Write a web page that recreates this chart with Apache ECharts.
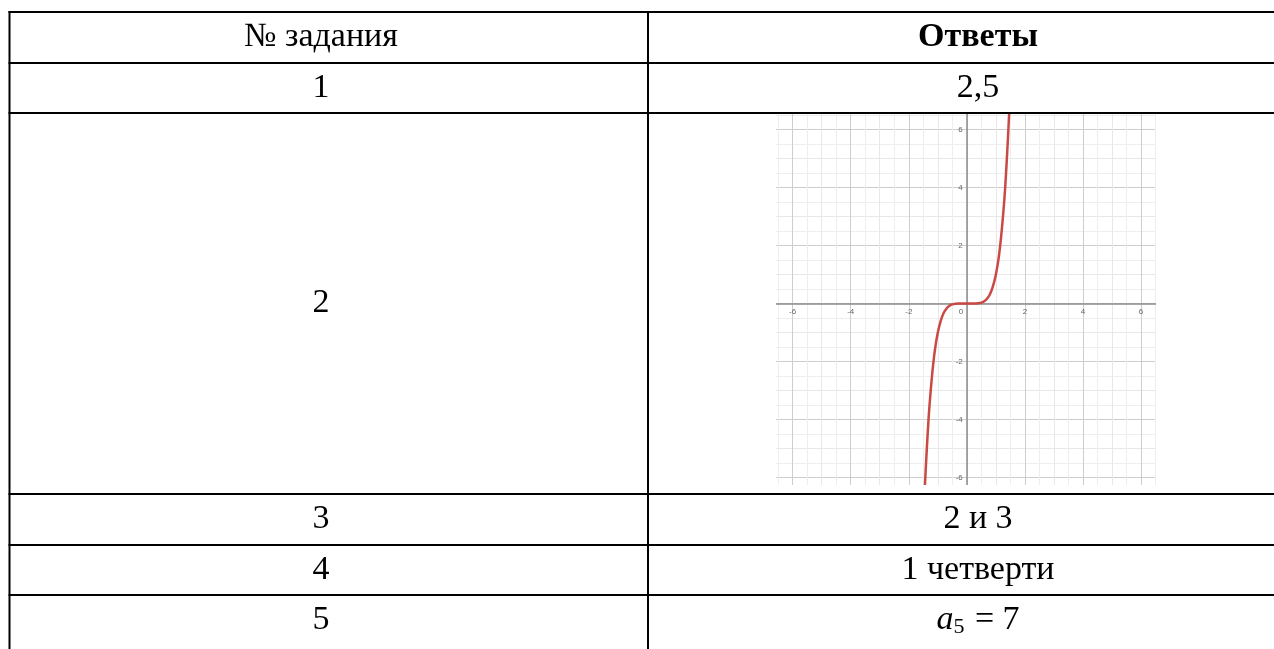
<!DOCTYPE html>
<html>
<head>
<meta charset="utf-8">
<script src="https://cdn.jsdelivr.net/npm/echarts@6/dist/echarts.min.js"></script>
<style>
  html, body { margin: 0; padding: 0; background: #fff; }
  #chart { width: 1274px; height: 649px; }
</style>
</head>
<body>
<div id="chart"></div>
<script>
// table content
const taskNumbers = ["1", "2", "3", "4", "5"];
const answers = ["2,5", "", "2 и 3", "1 четверти", "a5 = 7"];
const headers = ["№ задания", "Ответы"];

// curve points in row 2
const curveX = [-1.47, -1.45, -1.4, -1.35, -1.3, -1.2, -1.1, -1.0, -0.9, -0.8, -0.7, -0.6, -0.5, -0.3, 0,
  0.3, 0.5, 0.6, 0.7, 0.8, 0.9, 1.0, 1.1, 1.2, 1.3, 1.35, 1.4, 1.45, 1.47];
const curveY = [-6.9, -6.4, -5.4, -4.5, -3.7, -2.5, -1.6, -1.0, -0.6, -0.33, -0.17, -0.08, -0.03, 0, 0,
  0, 0.03, 0.08, 0.17, 0.33, 0.6, 1.0, 1.6, 2.5, 3.7, 4.5, 5.4, 6.4, 6.9];
const axisLabels = [-6, -4, -2, 0, 2, 4, 6];

const colLeft = 9.5, colMid = 648, tableRight = 1310;
const rowLines = [12, 63, 113, 494, 545, 595];
const rowCenters = [37.5, 88, 303, 519.5, 570, 620];
const col1X = 321, col2X = 978;
const unit = 29.03; // px per graph unit, used to shift the axes onto zero

const chart = echarts.init(document.getElementById("chart"), null, { renderer: "canvas" });

const serif = "'Liberation Serif', 'Times New Roman', serif";
const graphic = [];

// white covers that trim the plot to the picture's edges
[[700, 80, 76, 440], [1156, 80, 60, 440], [700, 80, 520, 34], [700, 485, 520, 40]].forEach(r => {
  graphic.push({ type: "rect", z: 10, shape: { x: r[0], y: r[1], width: r[2], height: r[3] },
    style: { fill: "#fff" } });
});

// table lines
rowLines.forEach(y => {
  graphic.push({ type: "line", z: 20, shape: { x1: colLeft - 1, y1: y, x2: tableRight, y2: y },
    style: { stroke: "#000", lineWidth: 2 } });
});
[colLeft, colMid].forEach(x => {
  graphic.push({ type: "line", z: 20, shape: { x1: x, y1: 11, x2: x, y2: 660 },
    style: { stroke: "#000", lineWidth: 2 } });
});

// header
graphic.push({ type: "text", z: 20, x: col1X, y: rowCenters[0],
  style: { text: headers[0], font: "34px " + serif, fill: "#000", align: "center", verticalAlign: "middle" } });
graphic.push({ type: "text", z: 20, x: col2X, y: rowCenters[0],
  style: { text: headers[1], font: "bold 34px " + serif, fill: "#000", align: "center", verticalAlign: "middle" } });

taskNumbers.forEach((t, i) => {
  graphic.push({ type: "text", z: 20, x: col1X, y: rowCenters[i + 1],
    style: { text: t, font: "34px " + serif, fill: "#000", align: "center", verticalAlign: "middle" } });
  const a = answers[i];
  if (!a) return;
  if (a.startsWith("a5")) {
    graphic.push({ type: "text", z: 20, x: col2X, y: rowCenters[i + 1],
      style: {
        text: "{i|a}{s|5}{n| = 7}", align: "center", verticalAlign: "middle",
        rich: {
          i: { font: "italic 34px " + serif, fill: "#000" },
          s: { font: "22px " + serif, fill: "#000", padding: [14, 2, 0, 0] },
          n: { font: "34px " + serif, fill: "#000" }
        }
      } });
  } else {
    graphic.push({ type: "text", z: 20, x: col2X, y: rowCenters[i + 1],
      style: { text: a, font: "34px " + serif, fill: "#000", align: "center", verticalAlign: "middle" } });
  }
});

function labelFmt(v) {
  if (!axisLabels.includes(v)) return "";
  return String(v);
}

chart.setOption({
  animation: false,
  backgroundColor: "#fff",
  grid: { left: 763.6, right: 103.9, top: 100.3, bottom: 142.3, containLabel: false },
  xAxis: {
    type: "value", min: -7, max: 7, interval: 1,
    offset: -7 * unit,
    axisLine: { onZero: false, lineStyle: { color: "#8c8c8c", width: 1.5 } },
    axisTick: { show: false },
    axisLabel: {
      margin: 4, fontSize: 8, color: "#666", fontFamily: "sans-serif",
      formatter: v => (v === 0 ? "{z|0}" : labelFmt(v)),
      rich: { z: { fontSize: 8, color: "#666", padding: [0, 12, 0, 0] } }
    },
    splitLine: { show: true, lineStyle: { color: ["#e8e8e8", "#cdcdcd"], width: 1 } },
    minorTick: { show: false, splitNumber: 2 },
    minorSplitLine: { show: true, lineStyle: { color: "#eeeeee", width: 1 } }
  },
  yAxis: {
    type: "value", min: -7, max: 7, interval: 1,
    offset: -7 * unit,
    axisLine: { onZero: false, lineStyle: { color: "#8c8c8c", width: 1.5 } },
    axisTick: { show: false },
    axisLabel: {
      margin: 4, fontSize: 8, color: "#666", fontFamily: "sans-serif",
      formatter: v => (v === 0 ? "" : labelFmt(v))
    },
    splitLine: { show: true, lineStyle: { color: ["#e8e8e8", "#cdcdcd"], width: 1 } },
    minorTick: { show: false, splitNumber: 2 },
    minorSplitLine: { show: true, lineStyle: { color: "#eeeeee", width: 1 } }
  },
  series: [{
    type: "line",
    data: curveX.map((x, i) => [x, curveY[i]]),
    smooth: 0.3,
    showSymbol: false,
    lineStyle: { color: "#c94a45", width: 2.5 },
    z: 3
  }],
  graphic: graphic
});
</script>
</body>
</html>
